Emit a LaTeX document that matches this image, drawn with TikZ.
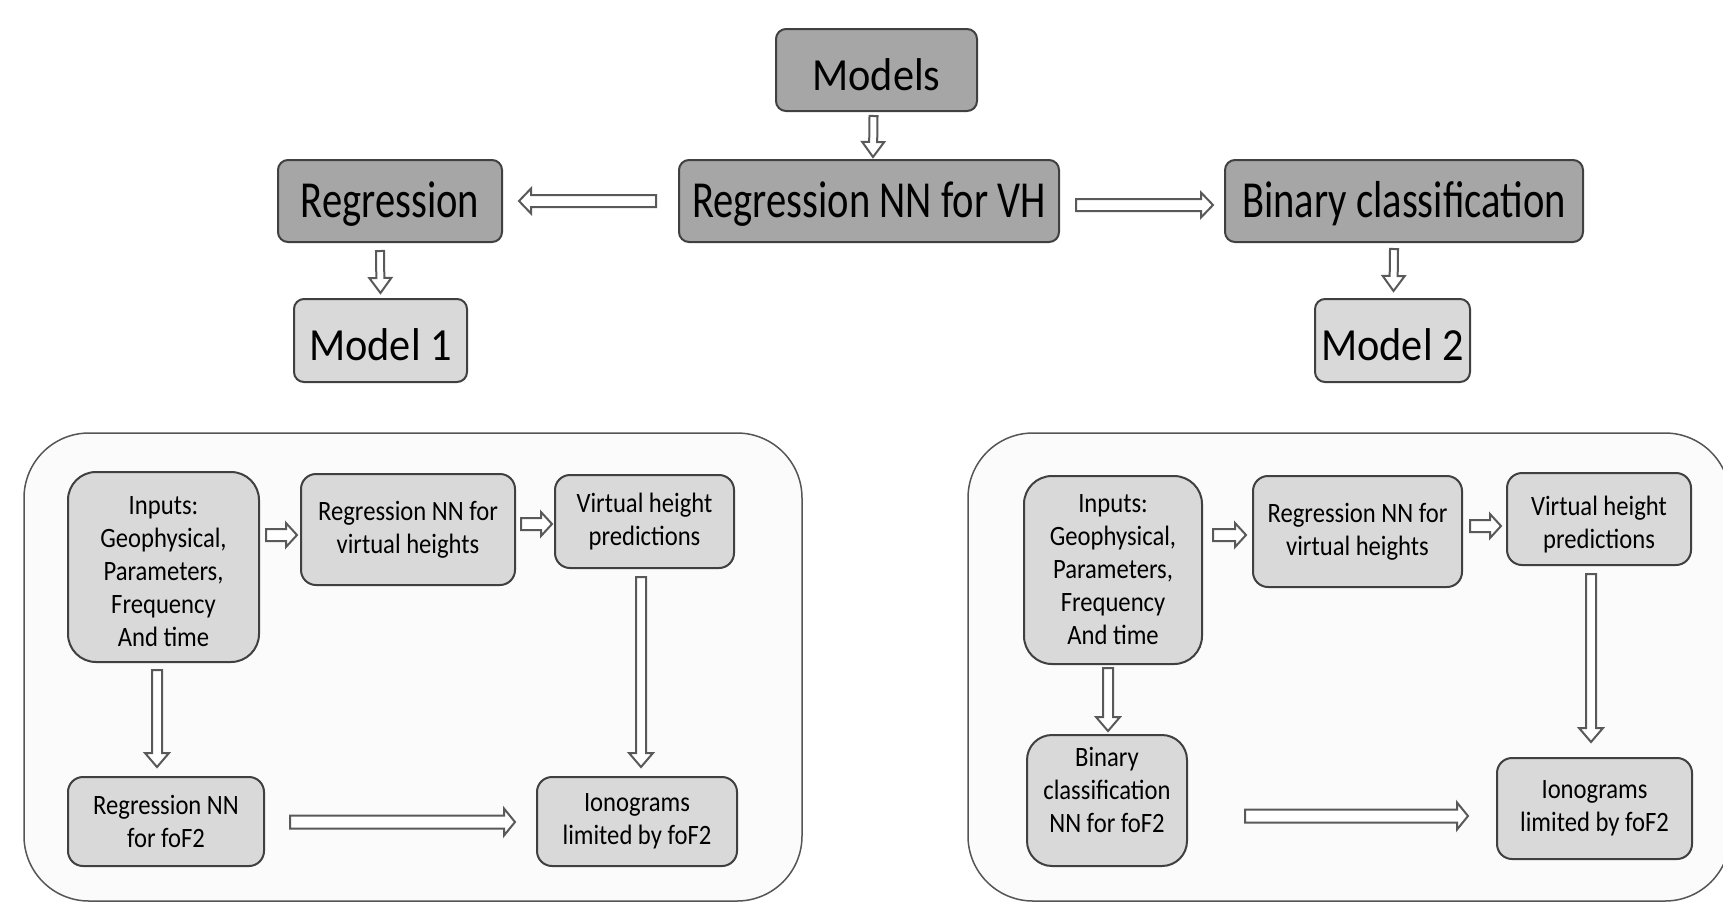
\documentclass[tikz,border=0pt]{standalone}
\usepackage{fontspec}
\setmainfont{Carlito}
\newfontfamily\titlefont[FakeStretch=0.78]{Carlito}
\newfontfamily\modelfont[FakeStretch=0.92]{Carlito}
\newfontfamily\stepfont[FakeStretch=0.88]{Carlito}
\usepackage{tikz}
\usetikzlibrary{calc,positioning}
\definecolor{darkfill}{RGB}{166,166,166}
\definecolor{lightfill}{RGB}{217,217,217}
\definecolor{panelfill}{RGB}{251,251,251}
\definecolor{edge}{RGB}{64,64,64}
\definecolor{panelline}{RGB}{85,85,85}
\definecolor{arrowline}{RGB}{89,89,89}
% block arrow: shaft half width, head half width, head length, from, to
\newcommand{\hollowarrow}[5]{%
  \coordinate (ha-s) at (#4);
  \coordinate (ha-e) at (#5);
  \coordinate (ha-h) at ($(ha-e)!#3!(ha-s)$);
  \draw[hollow] ($(ha-s)!#1!90:(ha-e)$) -- ($(ha-h)!#1!90:(ha-e)$)
    -- ($(ha-h)!#2!90:(ha-e)$) -- (ha-e) -- ($(ha-h)!#2!-90:(ha-e)$)
    -- ($(ha-h)!#1!-90:(ha-e)$) -- ($(ha-s)!#1!-90:(ha-e)$) -- cycle;}

\begin{document}
\begin{tikzpicture}[
      x=1pt, y=-1pt,
      topbox/.style={draw=edge, line width=2pt, fill=darkfill, rounded corners=10pt,
                     minimum height=82pt, inner sep=0pt, text depth=3pt,
                     font=\titlefont\fontsize{52}{60}\selectfont},
      modelbox/.style={draw=edge, line width=2pt, fill=lightfill, rounded corners=10pt,
                       minimum height=83pt, inner sep=0pt, text height=41pt,
                       font=\modelfont\fontsize{46}{54}\selectfont},
      stepbox/.style={draw=edge, line width=2pt, fill=lightfill, rounded corners=15pt,
                      inner sep=0pt, align=center,
                      font=\stepfont\fontsize{28}{33}\selectfont},
      panel/.style={draw=panelline, line width=1.5pt, fill=panelfill, rounded corners=65pt},
      hollow/.style={draw=arrowline, line width=2pt, fill=white, line join=miter}
    ]
    \useasboundingbox (0,0) rectangle (1723,903);
    % top row
    \node[topbox, minimum width=380pt] (vh) at (869,201) {Regression NN for VH};
    \node[modelbox, fill=darkfill, minimum width=201pt, minimum height=82pt,
          above=47pt of vh, xshift=7.5pt] (models) {Models};
    \node[topbox, minimum width=224pt, left=175pt of vh] (regr) {Regression};
    \node[topbox, minimum width=358pt, right=164pt of vh] (binary) {Binary classification};
    \node[modelbox, minimum width=173pt, below=55pt of regr, xshift=-9.5pt] (model1) {Model 1};
    \node[modelbox, minimum width=155pt, below=55pt of binary, xshift=-11.5pt] (model2) {Model 2};
    \hollowarrow{4pt}{11pt}{15pt}{$(models.south)+(-3,4)$}{$(vh.north)+(4,-2)$}
    \hollowarrow{6pt}{12.5pt}{12pt}{$(vh.west)+(-22,0)$}{$(regr.east)+(16,0)$}
    \hollowarrow{6pt}{12.5pt}{12pt}{$(vh.east)+(16,4)$}{$(binary.west)+(-11,4)$}
    \hollowarrow{4pt}{11pt}{15pt}{$(regr.south)+(-10,8)$}{$(model1.north)+(0,-5)$}
    \hollowarrow{4pt}{11pt}{15pt}{$(binary.south)+(-10,6)$}{$(model2.north)+(1,-7)$}
    % panels
    \draw[panel] (24,433) rectangle (802,901);
    \draw[panel] (968,433) rectangle (1730,901);
    % model 1 panel
    \node[stepbox, rounded corners=28pt, minimum width=191pt, minimum height=190pt] (in1) at (163.5,567)
      {\rule{0pt}{28pt}Inputs:\\Geophysical,\\Parameters,\\Frequency\\And time};
    \node[stepbox, minimum width=214pt, minimum height=111pt] (rnn1) at (408,529.5)
      {Regression NN for\\virtual heights};
    \node[stepbox, minimum width=179pt, minimum height=93pt] (vhp1) at (644.5,521.5)
      {Virtual height\\predictions};
    \node[stepbox, minimum width=196pt, minimum height=89pt] (fof1) at (166,821.5)
      {Regression NN\\for foF2};
    \node[stepbox, minimum width=200pt, minimum height=89pt] (iono1) at (637,821.5)
      {Ionograms\\limited by foF2};
    \hollowarrow{6pt}{12pt}{11pt}{$(in1.east)+(6,-32)$}{$(rnn1.west)+(-3,5.5)$}
    \hollowarrow{6pt}{12pt}{11pt}{$(rnn1.east)+(5,-5.5)$}{$(vhp1.west)+(-2,2.5)$}
    \hollowarrow{5pt}{12pt}{14pt}{$(in1.south)+(-6.5,7)$}{$(fof1.north)+(-9,-9)$}
    \hollowarrow{5pt}{12pt}{14pt}{$(vhp1.south)+(-3.5,8)$}{$(iono1.north)+(4,-9)$}
    \hollowarrow{6.5pt}{13.5pt}{11pt}{$(fof1.east)+(25,0.5)$}{$(iono1.west)+(-21,0.5)$}
    % model 2 panel
    \node[stepbox, rounded corners=28pt, minimum width=178pt, minimum height=188pt] (in2) at (1113,570)
      {Inputs:\\Geophysical,\\Parameters,\\Frequency\\And time};
    \node[stepbox, minimum width=209pt, minimum height=111pt] (rnn2) at (1357.5,531.5)
      {Regression NN for\\virtual heights};
    \node[stepbox, minimum width=184pt, minimum height=92pt] (vhp2) at (1599,519)
      {\rule{0pt}{30pt}Virtual height\\predictions};
    \node[stepbox, rounded corners=25pt, minimum width=160pt, minimum height=131pt,
          text depth=22pt] (fof2) at (1107,800.5)
      {Binary\\classification\\NN for foF2};
    \node[stepbox, minimum width=195pt, minimum height=101pt] (iono2) at (1594.5,808.5)
      {Ionograms\\limited by foF2};
    \hollowarrow{6pt}{12pt}{11pt}{$(in2.east)+(10,-35)$}{$(rnn2.west)+(-6,3.5)$}
    \hollowarrow{6pt}{12pt}{11pt}{$(rnn2.east)+(7,-5.5)$}{$(vhp2.west)+(-5,7)$}
    \hollowarrow{5pt}{12pt}{14pt}{$(in2.south)+(-5,3)$}{$(fof2.north)+(1,-3)$}
    \hollowarrow{5pt}{12pt}{14pt}{$(vhp2.south)+(-8,8)$}{$(iono2.north)+(-3.5,-15)$}
    \hollowarrow{6.5pt}{13.5pt}{11pt}{$(fof2.east)+(57,15.5)$}{$(iono2.west)+(-28,7.5)$}
  \end{tikzpicture}
\end{document}
